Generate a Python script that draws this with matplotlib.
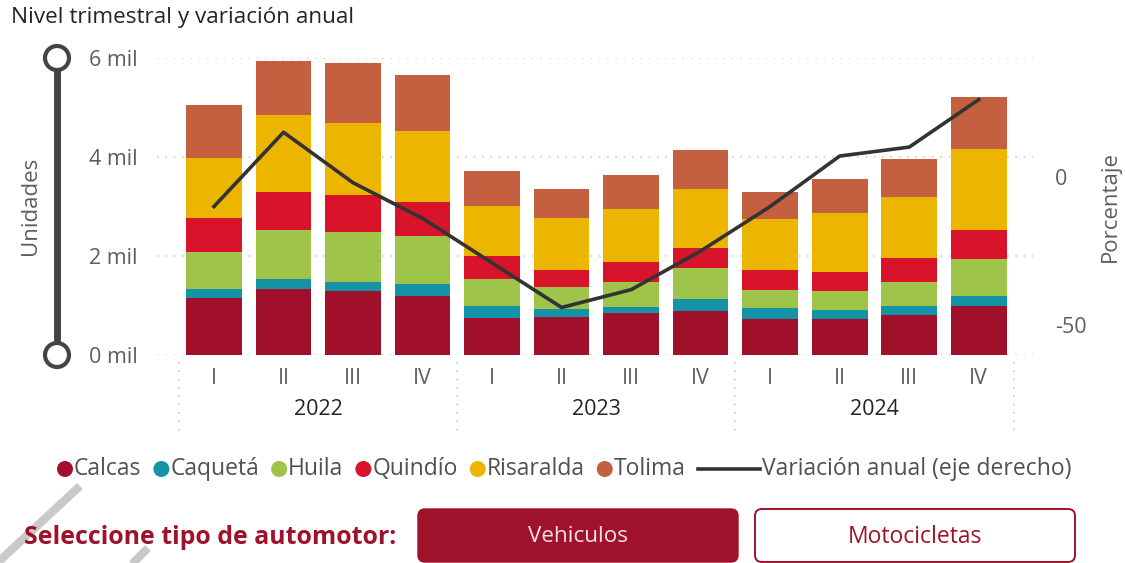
import matplotlib
matplotlib.use("Agg")
import matplotlib.pyplot as plt
from matplotlib.patches import Circle, FancyBboxPatch
import matplotlib.transforms as mtransforms
import numpy as np

plt.rcParams['font.family'] = ['Open Sans', 'DejaVu Sans']
plt.rcParams['axes.unicode_minus'] = False

# ---------------- data ----------------
quarters = ["I", "II", "III", "IV"] * 3
years = ["2022", "2023", "2024"]
series_names = ["Calcas", "Caquetá", "Huila", "Quindío", "Risaralda", "Tolima"]
calcas    = [1160, 1325, 1290, 1200, 755, 765, 845, 880, 725, 725, 800, 995]
caqueta   = [170, 220, 175, 240, 235, 160, 120, 250, 230, 190, 195, 200]
huila     = [750, 975, 1015, 965, 555, 445, 500, 630, 365, 380, 480, 750]
quindio   = [690, 780, 745, 690, 445, 340, 405, 400, 390, 380, 480, 575]
risaralda = [1215, 1545, 1460, 1425, 1030, 1060, 1070, 1190, 1030, 1190, 1230, 1635]
tolima    = [1060, 1095, 1215, 1135, 690, 575, 690, 795, 555, 690, 770, 1050]
variacion = [-10, 15, -2, -14, -29, -44, -38, -25, -10, 7, 10, 26]
line_name = "Variación anual (eje derecho)"

colors = ["#A0102B", "#1493A6", "#9EC449", "#D8132A", "#ECB500", "#C4603F"]
line_color = "#333333"
grid_color = "#CFCDCB"
tick_color = "#605E5C"
dark_text = "#252423"
brand = "#A0112B"

W, H = 1126, 563
fig = plt.figure(figsize=(W / 100, H / 100), dpi=100)

# overlay in pixel coordinates (for decorations)
ov = fig.add_axes([0, 0, 1, 1])
ov.set_xlim(0, W)
ov.set_ylim(H, 0)
ov.axis("off")

# main axes
L, R, T, B = 157, 1033, 58, 355
ax = fig.add_axes([L / W, (H - B) / H, (R - L) / W, (B - T) / H])
ax.set_facecolor("none")
x = np.arange(len(quarters))
bottom = np.zeros(len(quarters))
for name, vals, c in zip(series_names, [calcas, caqueta, huila, quindio, risaralda, tolima], colors):
    ax.bar(x, vals, width=0.8, bottom=bottom, color=c, edgecolor="none", zorder=2)
    bottom += np.array(vals)

ax.set_xlim(-0.82, 11.78)
ax.set_ylim(0, 6000)
ax.set_yticks([0, 2000, 4000, 6000])
ax.set_yticklabels(["0 mil", "2 mil", "4 mil", "6 mil"])
ax.yaxis.grid(True, color=grid_color, linestyle=(0, (1, 4)), linewidth=1.2, zorder=0)
ax.set_axisbelow(True)
ax.set_xticks(x)
ax.set_xticklabels(quarters)
ax.tick_params(axis="y", length=0, pad=14, labelsize=15.5, labelcolor=tick_color)
ax.tick_params(axis="x", length=0, pad=9, labelsize=15.5, labelcolor=tick_color)
for s in ax.spines.values():
    s.set_visible(False)

trans = mtransforms.blended_transform_factory(ax.transData, ax.transAxes)
for i, yr in enumerate(years):
    ax.text(4 * i + 1.5, -0.185, yr, transform=trans, ha="center", va="center",
            fontsize=15.5, color=dark_text)
for sx in [-0.5, 3.5, 7.5, 11.5]:
    ax.plot([sx, sx], [-0.024, -0.27], transform=trans, color=grid_color,
            linestyle=(0, (1, 4)), linewidth=1.2, clip_on=False)

ax2 = ax.twinx()
ax2.plot(x, variacion, color=line_color, linewidth=2.6, zorder=5)
ax2.set_ylim(-60, 40)
ax2.set_yticks([-50, 0])
ax2.tick_params(axis="y", length=0, pad=16, labelsize=15.5, labelcolor=tick_color)
for s in ax2.spines.values():
    s.set_visible(False)

# axis titles
ov.text(30, 206, "Unidades", rotation=90, ha="center", va="center", fontsize=16, color=tick_color)
ov.text(1110, 207, "Porcentaje", rotation=90, ha="center", va="center", fontsize=16, color=tick_color)

# slider decoration on left axis
ov.plot([57, 57], [T, B], color="#444444", linewidth=5, solid_capstyle="butt", zorder=1)
for cy in (T, B):
    ov.add_patch(Circle((57, cy), 12, facecolor="white", edgecolor="#444444", linewidth=3, zorder=2))

# title
ov.text(11, 18, "Nivel trimestral y variación anual", ha="left", va="center", fontsize=16.2, color=dark_text)

# legend (manual, measured)
fig.canvas.draw()
renderer = fig.canvas.get_renderer()
inv = ov.transData.inverted()
ly = 469
cx = 57
for name, c in zip(series_names, colors):
    ov.add_patch(Circle((cx + 8, ly), 8, facecolor=c, edgecolor="none"))
    t = ov.text(cx + 17, ly, name, ha="left", va="center", fontsize=16.5, color="#505050")
    bb = t.get_window_extent(renderer)
    x1 = inv.transform((bb.x1, bb.y0))[0]
    cx = x1 + 12
ov.plot([cx, cx + 62], [ly, ly], color=line_color, linewidth=2.6)
ov.text(cx + 64, ly, line_name, ha="left", va="center", fontsize=16.5, color="#505050")

# bottom controls
ov.text(24, 537, "Seleccione tipo de automotor:", ha="left", va="center", fontsize=17.9,
        fontweight="bold", color=brand)
ov.add_patch(FancyBboxPatch((418, 509), 320, 53, boxstyle="round,pad=0,rounding_size=7",
                            facecolor=brand, edgecolor=brand, linewidth=1))
ov.text(578, 537, "Vehiculos", ha="center", va="center", fontsize=16.2, color="#F3E3E6")
ov.add_patch(FancyBboxPatch((755, 509), 320, 53, boxstyle="round,pad=0,rounding_size=7",
                            facecolor="white", edgecolor=brand, linewidth=1.4))
ov.text(915, 537, "Motocicletas", ha="center", va="center", fontsize=16.5, color=brand)

# grey diagonal strokes present in the source image
ov.plot([80, -5], [486, 565], color="#C9C9C9", linewidth=6, solid_capstyle="butt")
ov.plot([148, 116], [548, 580], color="#C9C9C9", linewidth=6, solid_capstyle="butt")

fig.savefig("out.png", dpi=100)
